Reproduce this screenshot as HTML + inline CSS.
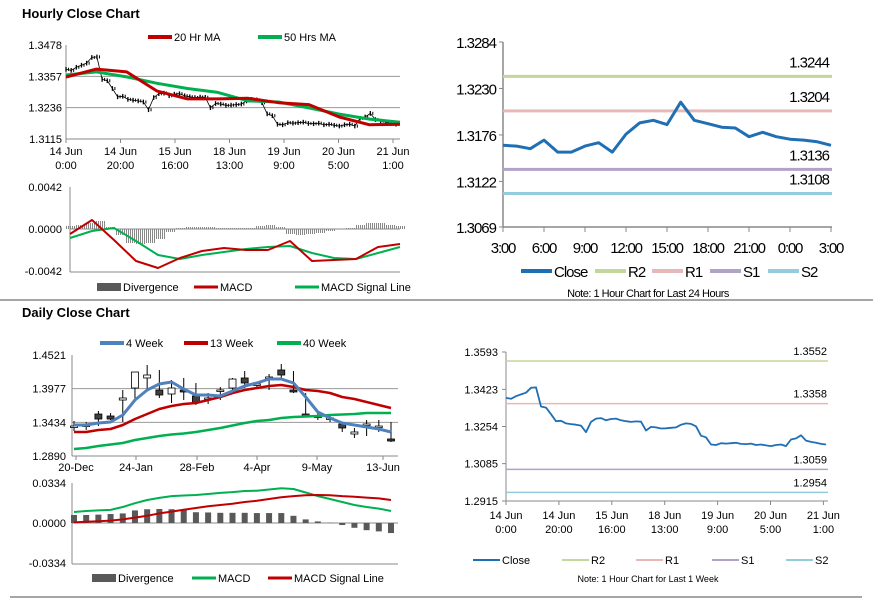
<!DOCTYPE html>
<html><head><meta charset="utf-8"><style>
body{margin:0;background:#fff;width:873px;height:601px;overflow:hidden;font-family:"Liberation Sans",Arial,sans-serif}
svg{position:absolute;left:0;top:0}
</style></head><body>
<svg id="s" width="873" height="601" xmlns="http://www.w3.org/2000/svg" font-family="Liberation Sans, Arial, sans-serif">
<line x1="0" y1="300" x2="873" y2="300" stroke="#888" stroke-width="1.5"/>
<line x1="10" y1="597" x2="862" y2="597" stroke="#888" stroke-width="1.5"/>
<text x="22" y="18" font-size="13" font-weight="bold">Hourly Close Chart</text>
<text x="22" y="317" font-size="13" font-weight="bold">Daily Close Chart</text>
<g id="g"></g>
</svg>
<script>
// ---- data ----
const weekClose=[1.3384,1.3380,1.3392,1.3400,1.3408,1.3430,1.3432,1.3345,1.3340,1.3310,1.3278,1.3280,1.3268,1.3265,1.3262,1.3258,1.3228,1.3275,1.3290,1.3292,1.3282,1.3288,1.3290,1.3282,1.3278,1.3275,1.3277,1.3276,1.3236,1.3252,1.3250,1.3245,1.3246,1.3248,1.3250,1.3262,1.3268,1.3266,1.3255,1.3212,1.3205,1.3172,1.3170,1.3178,1.3176,1.3178,1.3180,1.3175,1.3174,1.3176,1.3170,1.3172,1.3168,1.3165,1.3170,1.3172,1.3165,1.3195,1.3200,1.3214,1.3190,1.3184,1.3180,1.3175,1.3172];
const weekTicks=["14 Jun|0:00","14 Jun|20:00","15 Jun|16:00","18 Jun|13:00","19 Jun|9:00","20 Jun|5:00","21 Jun|1:00"];
const ma20=[1.3354,1.3385,1.3374,1.3300,1.3270,1.3270,1.3272,1.3255,1.3248,1.3200,1.3170,1.3172];
const ma50=[1.3362,1.3374,1.3355,1.3330,1.3310,1.3295,1.3262,1.3258,1.3235,1.3211,1.3192,1.3180];
const hMacd=[-0.0005,0.0009,-0.0011,-0.0032,-0.0039,-0.0029,-0.0022,-0.0019,-0.0021,-0.0021,-0.0012,-0.0032,-0.0031,-0.0030,-0.0018,-0.0015];
const hSignal=[-0.0009,-0.0002,0.0001,-0.0012,-0.0026,-0.0030,-0.0026,-0.0023,-0.0020,-0.0018,-0.0017,-0.0024,-0.0029,-0.0030,-0.0024,-0.0018];
const hDiv=[0.0003,0.0004,0.0006,0.0008,0.0002,-0.0006,-0.0014,-0.0015,-0.0014,-0.0010,-0.0003,0.0001,0.0002,0.0002,0.0002,0.0001,0.0001,0.0001,0.0001,0.0003,0.0004,0.0002,-0.0005,-0.0006,-0.0005,-0.0004,-0.0002,0.0000,0.0001,0.0004,0.0006,0.0006,0.0004,0.0003];
const dayClose=[1.3164,1.3163,1.3160,1.3170,1.3156,1.3156,1.3163,1.3167,1.3156,1.3177,1.3190,1.3193,1.3188,1.3214,1.3193,1.3189,1.3185,1.3184,1.3174,1.3179,1.3174,1.3171,1.3170,1.3168,1.3164];
const dayTicks=["3:00","6:00","9:00","12:00","15:00","18:00","21:00","0:00","3:00"];
const dayLevels=[1.3244,1.3204,1.3136,1.3108];
const weekLevels=[1.3552,1.3358,1.3059,1.2954];
const levelNames=["R2","R1","S1","S2"];
const levelColors=["#c3d69b","#e6b9b8","#b3a2c7","#93cddd"];
const wOpen=[1.3374,1.3391,1.3568,1.3536,1.3794,1.3988,1.4150,1.3956,1.3891,1.3956,1.3859,1.3827,1.3956,1.3988,1.4150,1.4053,1.4166,1.4279,1.3956,1.3568,1.3536,1.3504,1.3407,1.3245,1.3407,1.3374,1.3165];
const wClose=[1.3374,1.3391,1.3487,1.3487,1.3827,1.4246,1.4198,1.3875,1.3988,1.3924,1.3746,1.3827,1.3956,1.4133,1.4069,1.4053,1.4166,1.4198,1.3924,1.3536,1.3536,1.3504,1.3342,1.3278,1.3407,1.3374,1.3132];
const wHigh=[1.3455,1.3439,1.3617,1.3584,1.3956,1.4246,1.4360,1.4279,1.4117,1.4150,1.4069,1.3907,1.4004,1.4150,1.4263,1.4085,1.4214,1.4376,1.4263,1.3907,1.3584,1.3552,1.3439,1.3342,1.3471,1.3471,1.3439];
const wLow=[1.3294,1.3310,1.3374,1.3471,1.3439,1.3794,1.3956,1.3827,1.3746,1.3794,1.3714,1.3730,1.3794,1.3924,1.3988,1.3988,1.3956,1.4150,1.3907,1.3520,1.3471,1.3439,1.3278,1.3181,1.3213,1.3278,1.3116];
const wk4=[1.3391,1.3391,1.3423,1.3439,1.3552,1.3794,1.3956,1.4053,1.4085,1.3972,1.3875,1.3875,1.3859,1.3940,1.4020,1.4069,1.4133,1.4133,1.4069,1.3843,1.3600,1.3504,1.3423,1.3391,1.3358,1.3326,1.3278];
const wk13=[1.3278,1.3278,1.3310,1.3326,1.3391,1.3487,1.3568,1.3649,1.3698,1.3730,1.3746,1.3794,1.3843,1.3907,1.3956,1.3988,1.4020,1.4036,1.4004,1.3956,1.3940,1.3907,1.3843,1.3810,1.3762,1.3714,1.3665];
const wk40=[1.3003,1.3019,1.3051,1.3076,1.3100,1.3148,1.3181,1.3213,1.3237,1.3253,1.3278,1.3310,1.3342,1.3383,1.3423,1.3455,1.3471,1.3504,1.3520,1.3528,1.3536,1.3552,1.3560,1.3568,1.3584,1.3584,1.3584];
const wkTicks=["20-Dec","24-Jan","28-Feb","4-Apr","9-May","13-Jun"];
const wMacd=[0.0092,0.0100,0.0105,0.0109,0.0134,0.0165,0.0192,0.0210,0.0225,0.0230,0.0234,0.0242,0.0251,0.0258,0.0267,0.0270,0.0280,0.0290,0.0284,0.0255,0.0225,0.0200,0.0175,0.0150,0.0134,0.0120,0.0100];
const wSignal=[0.0005,0.0010,0.0015,0.0020,0.0030,0.0045,0.0060,0.0080,0.0095,0.0110,0.0125,0.0140,0.0150,0.0160,0.0175,0.0185,0.0200,0.0215,0.0225,0.0232,0.0234,0.0232,0.0225,0.0220,0.0212,0.0205,0.0192];
const wDiv=[0.0067,0.0067,0.0070,0.0075,0.0080,0.0105,0.0115,0.0117,0.0115,0.0113,0.0090,0.0088,0.0085,0.0085,0.0085,0.0083,0.0083,0.0083,0.0060,0.0030,0.0013,0.0002,-0.0017,-0.0040,-0.0060,-0.0070,-0.0084];

const NS="http://www.w3.org/2000/svg";
const G=document.getElementById('g');
function mk(tag,attrs,parent){const e=document.createElementNS(NS,tag);for(const k in attrs)e.setAttribute(k,attrs[k]);(parent||G).appendChild(e);return e;}
function lin(d0,d1,r0,r1){return v=>r0+(v-d0)/(d1-d0)*(r1-r0);}
function poly(xs,ys,color,w,name){const p=mk('polyline',{points:xs.map((x,i)=>x.toFixed(1)+','+ys[i].toFixed(1)).join(' '),fill:'none',stroke:color,'stroke-width':w,'stroke-linejoin':'round'});


return p;}
function txt(x,y,s,size,anchor,name,color,ls){const t=mk('text',{x:x,y:y,'font-size':size,'text-anchor':anchor||'start',fill:color||'#000'});t.textContent=s;
if(ls)t.setAttribute('letter-spacing',ls);


return t;}
function ln(x1,y1,x2,y2,c,w,name){const l=mk('line',{x1:x1,y1:y1,x2:x2,y2:y2,stroke:c,'stroke-width':w});


return l;}
function legLine(x,y,c,w,label,size,name){ln(x,y,x+24,y,c,w,name+'-swatch');txt(x+26,y+4,label,size,'start',name);}

// ===== Hourly close (top-left) =====
{const x=lin(0,63.4,66,393),y=lin(1.3115,1.3478,139,45);
[1.3478,1.3357,1.3236,1.3115].forEach((v,i)=>{if(i>0&&i<3)ln(66,y(v),400,y(v),'#999',1,'h-grid');txt(62,y(v)+4,v.toFixed(4),11,'end','h-ytick');});
ln(66,45,66,139,'#888',1,'h-yaxis');ln(66,139,400,139,'#888',1,'h-xaxis');
weekTicks.forEach((t,i)=>{const xx=66+i*54.5;ln(xx,139,xx,143,'#888',1,'h-xtickmark');const p=t.split('|');txt(xx,155,p[0],11,'middle','h-xtick');txt(xx,169,p[1],11,'middle','h-xtick');});
const xs=weekClose.map((v,i)=>x(i)),ys=weekClose.map(v=>y(v));
weekClose.forEach((v,i)=>{ln(x(i),y(v+0.0009),x(i),y(v-0.0009),'#000',1.3,'h-price-bar');
ln(x(i)+2.5,y(v+0.0006),x(i)+2.5,y(v-0.0006),'#000',1,'h-price-bar');});
poly(xs,ys,'#000',0.8,'h-close-line');
const mx=ma20.map((v,i)=>66+i*334/11);
poly(mx,ma50.map(y),'#00b050',3,'h-ma50-line');
poly(mx,ma20.map(y),'#c00000',3,'h-ma20-line');
legLine(148,37,'#c00000',4,'20 Hr MA',11,'legend-20hr-ma');legLine(258,37,'#00b050',4,'50 Hrs MA',11,'legend-50hrs-ma');
// MACD
const yy=lin(0,0.0042,229,187);
ln(70,187,70,272,'#888',1,'h-macd-yaxis');ln(70,229,400,229,'#888',1,'h-macd-zero');ln(70,272,400,272,'#888',1,'h-macd-bottom');
[0.0042,0,-0.0042].forEach(v=>txt(62,yy(v)+4,v.toFixed(4),11,'end','h-macd-ytick'));
hDiv.forEach((v,i)=>{const xx=70+i*330/33;for(let k=-4;k<=4;k+=2){const r=mk('rect',{x:xx+k,y:Math.min(yy(v),229),width:1,height:Math.abs(yy(v)-229),fill:'#888'});

}});
const hx=hMacd.map((v,i)=>70+i*22);
poly(hx,hSignal.map(yy),'#00b050',2,'h-signal-line');
poly(hx,hMacd.map(yy),'#c00000',2,'h-macd-line');
const lb=mk('rect',{x:97,y:283,width:24,height:8,fill:'#595959'});
txt(123,291,'Divergence',11,'start','legend-divergence');
legLine(194,287,'#c00000',3,'MACD',11,'legend-macd');legLine(295,287,'#00b050',3,'MACD Signal Line',11,'legend-signal');}

// ===== 24h chart (top-right) =====
{const x=lin(0,24,503,831),y=lin(1.3069,1.3284,227,42);
ln(503,42,503,227,'#888',1.5,'d-yaxis');ln(503,227,832,227,'#888',1.5,'d-xaxis');
[1.3284,1.3230,1.3176,1.3122,1.3069].forEach(v=>{ln(499,y(v),503,y(v),'#888',1,'d-ytickmark');txt(496,y(v)+6,v.toFixed(4),15,'end','d-ytick',null,-1);});
dayTicks.forEach((t,i)=>{const xx=503+i*41;ln(xx,227,xx,232,'#888',1,'d-xtickmark');txt(xx,253,t,15,'middle','d-xtick',null,-1.2);});
dayLevels.forEach((v,i)=>{ln(503,y(v),832,y(v),levelColors[i],3,'d-level-'+levelNames[i]);txt(829,y(v)-9,v.toFixed(4),15,'end','d-level-label',null,-1);});
poly(dayClose.map((v,i)=>x(i)),dayClose.map(y),'#1f6fb5',3,'d-close-line');
const lx=[521,595,652,710,768];const lc=['#1f6fb5'].concat(levelColors);const ll=['Close'].concat(levelNames);
lx.forEach((xx,i)=>{ln(xx,271,xx+31,271,lc[i],4,'legend-d-'+ll[i]+'-swatch');txt(xx+33,277,ll[i],15,'start','legend-d-'+ll[i],null,-1);});
txt(648,297,'Note: 1 Hour Chart for Last 24 Hours',11,'middle','d-note',null,-0.5);}

// ===== Weekly/daily (bottom-left) =====
{const x=lin(0,26,74,391),y=lin(1.2890,1.4521,456,355);
[1.4521,1.3977,1.3434,1.2890].forEach((v,i)=>{if(i>0&&i<3)ln(72,y(v),398,y(v),'#999',1,'w-grid');txt(66,y(v)+4,v.toFixed(4),11,'end','w-ytick');});
ln(72,355,72,456,'#888',1,'w-yaxis');ln(72,456,398,456,'#888',1,'w-xaxis');
const tx=[76,136,197,257,317,383];
wkTicks.forEach((t,i)=>{ln(tx[i],456,tx[i],460,'#888',1,'w-xtickmark');txt(tx[i],471,t,11,'middle','w-xtick');});
wOpen.forEach((o,i)=>{const c=wClose[i],xx=x(i);ln(xx,y(wHigh[i]),xx,y(wLow[i]),'#000',1,'w-candle-wick');
const top=y(Math.max(o,c)),h=Math.max(1.5,Math.abs(y(o)-y(c)));
const r=mk('rect',{x:xx-3.5,y:top,width:7,height:h,fill:c<o?'#404040':'#fff',stroke:'#000','stroke-width':0.8});

});
const xs=wk4.map((v,i)=>x(i));
poly(xs,wk40.map(y),'#00b050',2.5,'w-40wk-line');
poly(xs,wk13.map(y),'#c00000',2.5,'w-13wk-line');
poly(xs,wk4.map(y),'#4f81bd',3,'w-4wk-line');
legLine(100,343,'#4f81bd',4,'4 Week',11,'legend-4-week');legLine(184,343,'#c00000',4,'13 Week',11,'legend-13-week');legLine(277,343,'#00b050',4,'40 Week',11,'legend-40-week');
const yy=lin(0,0.0334,523,483);
ln(72,483,72,564,'#888',1,'w-macd-yaxis');ln(72,523,398,523,'#888',1,'w-macd-zero');ln(72,564,398,564,'#888',1,'w-macd-bottom');
[0.0334,0,-0.0334].forEach(v=>txt(66,yy(v)+4,v.toFixed(4),11,'end','w-macd-ytick'));
wDiv.forEach((v,i)=>{const r=mk('rect',{x:x(i)-3,y:Math.min(yy(v),523),width:6,height:Math.abs(yy(v)-523),fill:'#595959'});

});
poly(xs,wMacd.map(yy),'#00b050',2,'w-macd-line');
poly(xs,wSignal.map(yy),'#c00000',2,'w-signal-line');
const lb=mk('rect',{x:92,y:574,width:24,height:8,fill:'#595959'});
txt(118,582,'Divergence',11,'start','legend-w-divergence');
legLine(192,578,'#00b050',3,'MACD',11,'legend-w-macd');legLine(268,578,'#c00000',3,'MACD Signal Line',11,'legend-w-signal');}

// ===== Week hourly close (bottom-right) =====
{const x=lin(0,63.4,506,823),y=lin(1.2915,1.3593,501,352);
ln(506,352,506,501,'#888',1,'wk-yaxis');ln(506,501,828,501,'#888',1,'wk-xaxis');
[1.3593,1.3423,1.3254,1.3085,1.2915].forEach(v=>{ln(502,y(v),506,y(v),'#888',1,'wk-ytickmark');txt(498,y(v)+4,v.toFixed(4),11,'end','wk-ytick');});
weekTicks.forEach((t,i)=>{const xx=506+i*52.9;ln(xx,501,xx,505,'#888',1,'wk-xtickmark');const p=t.split('|');txt(xx,519,p[0],11,'middle','wk-xtick');txt(xx,533,p[1],11,'middle','wk-xtick');});
weekLevels.forEach((v,i)=>{ln(506,y(v),828,y(v),levelColors[i],1.5,'wk-level-'+levelNames[i]);txt(827,y(v)-6,v.toFixed(4),11,'end','wk-level-label');});
poly(weekClose.map((v,i)=>x(i)),weekClose.map(y),'#1f6fb5',1.8,'wk-close-line');
const lx=[473,562,636,712,786];const lc=['#1f6fb5'].concat(levelColors);const ll=['Close'].concat(levelNames);
lx.forEach((xx,i)=>{ln(xx,560,xx+27,560,lc[i],2,'legend-wk-'+ll[i]+'-swatch');txt(xx+29,564,ll[i],11,'start','legend-wk-'+ll[i]);});
txt(648,582,'Note: 1 Hour Chart for Last 1 Week',9,'middle','wk-note');}
</script>
</body></html>
